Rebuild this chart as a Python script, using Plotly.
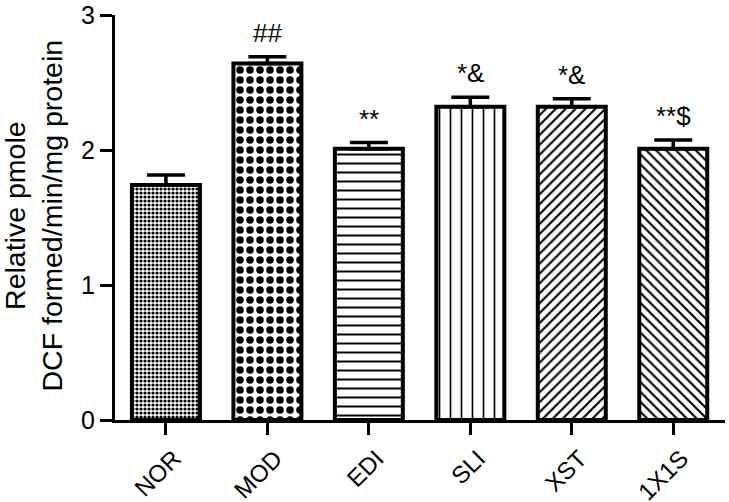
import plotly.graph_objects as go

categories = ["NOR", "MOD", "EDI", "SLI", "XST", "1X1S"]
values = [1.74, 2.64, 2.01, 2.32, 2.32, 2.01]
errors = [0.075, 0.05, 0.045, 0.07, 0.06, 0.065]
marks = ["", "##", "**", "*&", "*&", "**$"]
y_ticks = [0, 1, 2, 3]

FONT = "Arial, Liberation Sans, Helvetica, sans-serif"

fig = go.Figure()
fig.add_trace(go.Bar(
    x=categories,
    y=values,
    width=0.67,
    marker=dict(
        color="white",
        line=dict(color="black", width=4),
        pattern=dict(
            shape=[".", ".", "-", "|", "/", "\\"],
            size=[4, 10, 9, 11, 7, 7],
            solidity=[0.5, 0.45, 0.22, 0.15, 0.3, 0.3],
            fgcolor="black",
            bgcolor="white",
            fillmode="replace",
        ),
    ),
    error_y=dict(type="data", array=errors, arrayminus=[0] * len(errors),
                 symmetric=False, color="black", thickness=3.5, width=19),
    showlegend=False,
))

for c, v, e, m in zip(categories, values, errors, marks):
    if m:
        fig.add_annotation(x=c, y=v + e, xref="x", yref="y", text=m, showarrow=False,
                           yanchor="bottom", yshift=7,
                           font=dict(family=FONT, size=26, color="black"))

fig.add_annotation(x=0, y=0.505, xref="paper", yref="paper",
                   text="Relative pmole<br>DCF formed/min/mg protein",
                   textangle=-90, showarrow=False, xanchor="center", yanchor="middle",
                   xshift=-82, font=dict(family=FONT, size=28.5, color="black"))

fig.update_layout(
    width=729, height=502,
    margin=dict(l=115, r=4, t=15, b=82, autoexpand=False),
    plot_bgcolor="white", paper_bgcolor="white",
    font=dict(family=FONT, color="black"),
    bargap=0.33,
)
fig.update_xaxes(range=[-0.502, 5.51], showline=True, linewidth=3, linecolor="black",
                 ticks="outside", ticklen=12, tickwidth=3, tickcolor="black",
                 tickangle=-45, tickfont=dict(family=FONT, size=24, color="black"),
                 ticklabelshift=8, ticklabelstandoff=0, ticklabeloverflow="allow",
                 showgrid=False, zeroline=False, automargin=False)
fig.update_yaxes(range=[0, 3], tickvals=y_ticks, showline=True, linewidth=3, linecolor="black",
                 ticks="outside", ticklen=12, tickwidth=3, tickcolor="black",
                 tickfont=dict(family=FONT, size=25, color="black"), ticklabeloverflow="allow",
                 showgrid=False, zeroline=False, automargin=False)

fig.write_html("out.html", config={"displayModeBar": False},
               post_script="document.body.style.margin='0';")
